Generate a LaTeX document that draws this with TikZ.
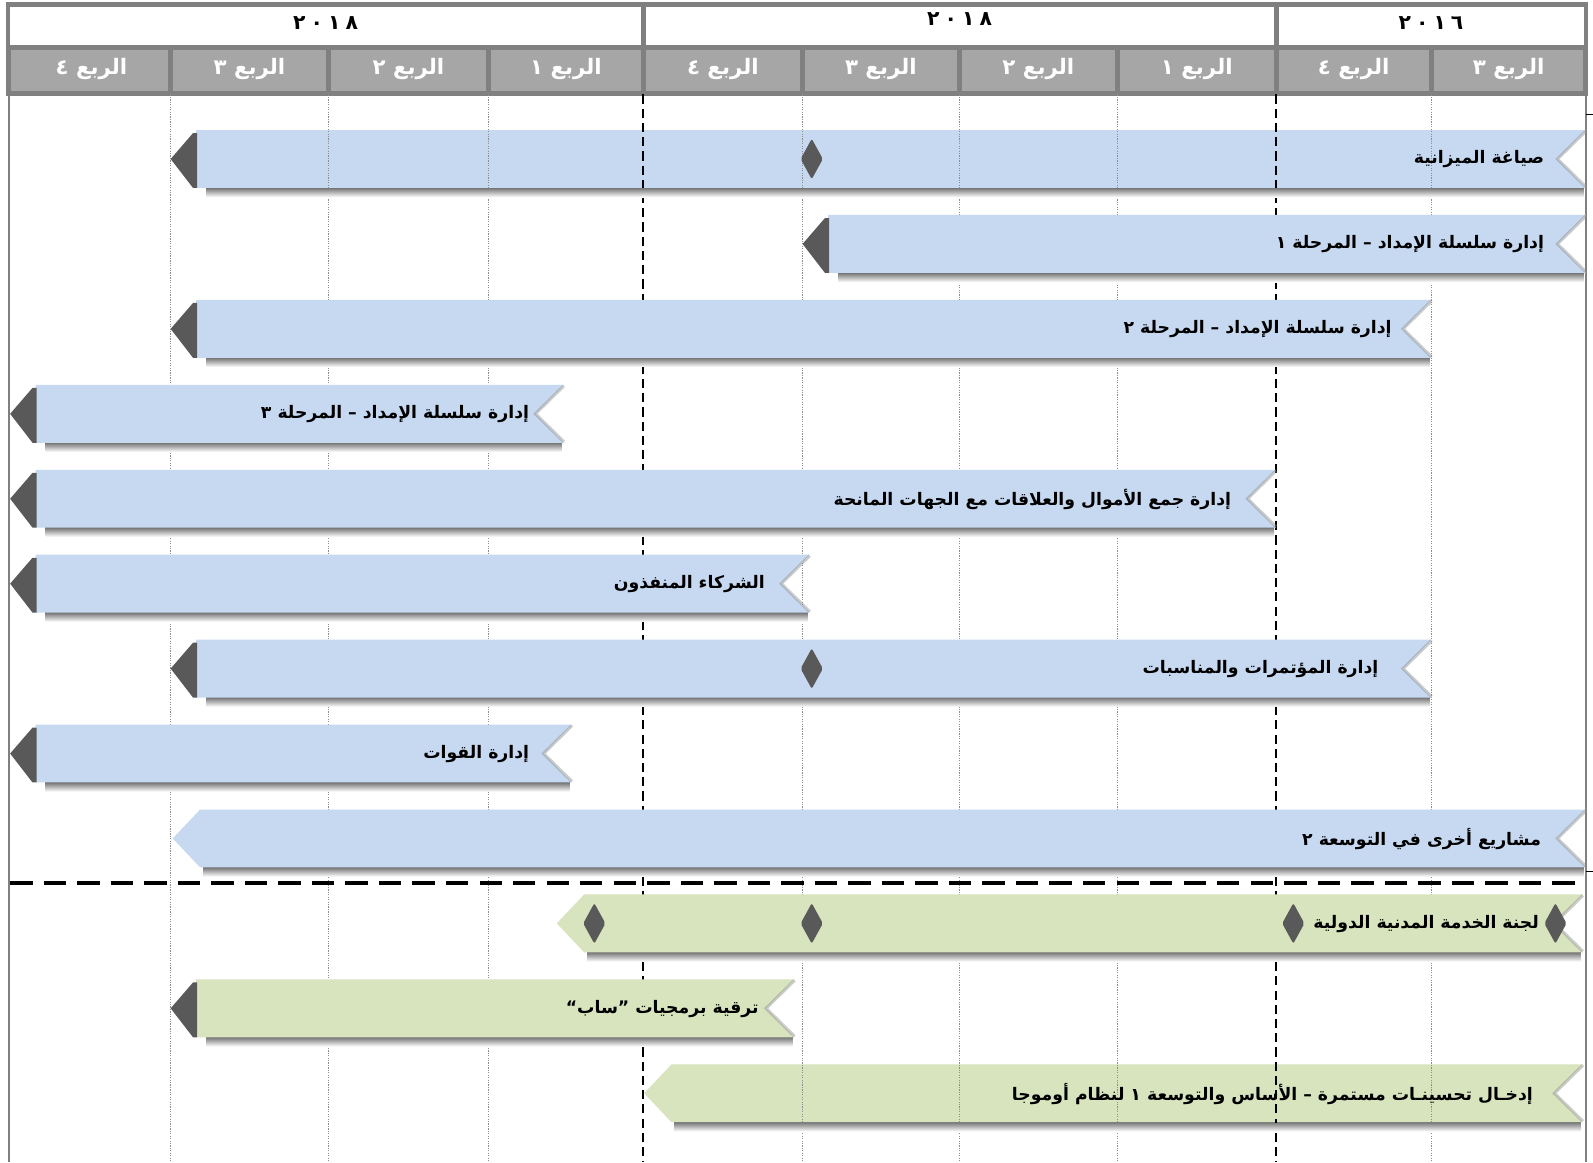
\documentclass[tikz,border=0pt]{standalone}
\usepackage{fontspec}
\usetikzlibrary{shapes.geometric}
\newfontfamily\arabicfont[Script=Arabic]{DejaVu Sans}
\TeXXeTstate=1
\definecolor{barblue}{HTML}{C6D9F1}
\definecolor{bargreen}{HTML}{D7E4BD}
\definecolor{tipgray}{HTML}{595959}
\definecolor{hdrframe}{HTML}{808080}
\definecolor{hdrcell}{HTML}{A6A6A6}
\newcommand\gshadow[3]{\shade[top color=black!60, bottom color=white] (#2,#1+56) rectangle (#3,#1+66);}
\newcommand\notchline[2]{\draw[black!45, line width=3pt, opacity=.45] (#2,#1+1) -- (#2-28,#1+28.5) -- (#2,#1+56);}
% ytop, tip x, right x, colour
\newcommand\tipbar[4]{%
  \gshadow{#1}{#2+35}{#3-2}
  \fill[#4] (#2+25,#1) -- (#3,#1) -- (#3-28,#1+28.5) -- (#3,#1+57) -- (#2+25,#1+57) -- cycle;
  \notchline{#1}{#3}
  \fill[tipgray] (#2,#1+28.5) -- (#2+22,#1+3) -- (#2+26,#1+3) -- (#2+26,#1+57) -- (#2+22,#1+57) -- cycle;
}
\newcommand\pointbar[4]{%
  \gshadow{#1}{#2+30}{#3-2}
  \fill[#4] (#2,#1+28.5) -- (#2+27,#1) -- (#3,#1) -- (#3-28,#1+28.5) -- (#3,#1+57) -- (#2+27,#1+57) -- cycle;
  \notchline{#1}{#3}
}
\newcommand\gridlines{%
  \foreach \gx in {168,323,481,790,944,1100,1409} \draw[dotgrid] (\gx,93) -- (\gx,1144);
  \foreach \gx in {633,1256} \draw[dashgrid] (\gx,93) -- (\gx,1144);
}
\begin{document}
\begin{tikzpicture}[x=1pt,y=-1pt,
  lbl/.style={font=\arabicfont\bfseries\fontsize{17}{20}\selectfont, text=black, inner sep=0pt, anchor=east},
  qlbl/.style={font=\arabicfont\bfseries\fontsize{21}{24}\selectfont, text=white, inner sep=0pt},
  ylbl/.style={font=\arabicfont\bfseries\fontsize{20}{22}\selectfont, text=black, inner sep=0pt},
  mstone/.style={diamond, fill=tipgray, minimum width=22pt, minimum height=40pt, inner sep=0pt, rounded corners=2pt},
  dotgrid/.style={draw=black!45, line width=0.8pt, dash pattern=on 1.2pt off 1.2pt},
  dashgrid/.style={draw=black, line width=2pt, dash pattern=on 9pt off 5pt},
  edge/.style={draw=hdrframe, line width=2pt},
]
\useasboundingbox (0,0) rectangle (1568,1144);
\fill[white] (0,0) rectangle (1568,1144);
% ---------- header ----------
\fill[hdrframe] (6,2) rectangle (1563,94);
\fill[white] (10,7) rectangle (631,44);
\fill[white] (636,7) rectangle (1254,44);
\fill[white] (1259,7) rectangle (1559,44);
\foreach \a/\b in {8/168,168/323,323/481,481/633,633/790,790/944,944/1100,1100/1256,1256/1409,1409/1561}
  \fill[hdrcell] (\a+2.5,49) rectangle (\b-2.5,90);
\node[ylbl] (y1) at (320.5,23) {٢\hspace{5pt}٠\hspace{5pt}١\hspace{5pt}٨};
\node[ylbl] (y2) at (944.5,19) {٢\hspace{5pt}٠\hspace{5pt}١\hspace{5pt}٨};
\node[ylbl] (y3) at (1408.5,23) {٢\hspace{5pt}٠\hspace{5pt}١\hspace{5pt}٦};
\node[qlbl] (q1) at (90,68) {\beginR الربع ٤\endR};
\node[qlbl] (q2) at (245.5,68) {\beginR الربع ٣\endR};
\node[qlbl] (q3) at (402,68) {\beginR الربع ٢\endR};
\node[qlbl] (q4) at (557,68) {\beginR الربع ١\endR};
\node[qlbl] (q5) at (711.5,68) {\beginR الربع ٤\endR};
\node[qlbl] (q6) at (867,68) {\beginR الربع ٣\endR};
\node[qlbl] (q7) at (1022,68) {\beginR الربع ٢\endR};
\node[qlbl] (q8) at (1178,68) {\beginR الربع ١\endR};
\node[qlbl] (q9) at (1332.5,68) {\beginR الربع ٤\endR};
\node[qlbl] (q10) at (1485,68) {\beginR الربع ٣\endR};
% ---------- grid under bars ----------
\gridlines
\draw[edge] (9,93) -- (9,1144);
\draw[hdrframe, line width=1.5pt] (1561,93) -- (1561,1144);
\draw[black, line width=1pt] (1561,113) -- (1568,113);
\draw[black, line width=1pt] (1561,858) -- (1568,858);
% ---------- bars ----------
\tipbar{128}{168}{1561}{barblue}
\tipbar{211.6}{790}{1561}{barblue}
\tipbar{295.2}{168}{1409}{barblue}
\tipbar{378.8}{10}{555}{barblue}
\tipbar{462.4}{10}{1256}{barblue}
\tipbar{546}{10}{797}{barblue}
\tipbar{629.6}{168}{1409}{barblue}
\tipbar{713.2}{10}{563}{barblue}
\pointbar{796.8}{170}{1561}{barblue}
\pointbar{880.4}{548}{1558}{bargreen}
\tipbar{964}{168}{782}{bargreen}
\pointbar{1047.6}{634}{1558}{bargreen}
% grid over first and last bars
\begin{scope}
  \clip (190,128) rectangle (1561,185);
  \gridlines
\end{scope}
\begin{scope}
  \clip (634,1047.6) rectangle (1558,1104.6);
  \gridlines
\end{scope}
% ---------- separator ----------
\draw[black, line width=4pt, dash pattern=on 22pt off 11pt] (10,869) -- (1561,869);
% ---------- milestones ----------
\node[mstone] (m1) at (799,156.5) {};
\node[mstone] (m7) at (799,658.1) {};
\node[mstone] (m10a) at (585,908.9) {};
\node[mstone] (m10b) at (799,908.9) {};
\node[mstone] (m10c) at (1273,908.9) {};
\node[mstone] (m10d) at (1531,908.9) {};
% ---------- labels ----------
\node[lbl] (l1) at (1520,157) {\beginR صياغة الميزانية\endR};
\node[lbl] (l2) at (1520,240.6) {\beginR إدارة سلسلة الإمداد – المرحلة ١\endR};
\node[lbl] (l3) at (1370,324.2) {\beginR إدارة سلسلة الإمداد – المرحلة ٢\endR};
\node[lbl] (l4) at (521,407.8) {\beginR إدارة سلسلة الإمداد – المرحلة ٣\endR};
\node[lbl] (l5) at (1212,491.4) {\beginR إدارة جمع الأموال والعلاقات مع الجهات المانحة\endR};
\node[lbl] (l6) at (753,575) {\beginR الشركاء المنفذون\endR};
\node[lbl] (l7) at (1357,658.6) {\beginR إدارة المؤتمرات والمناسبات\endR};
\node[lbl] (l8) at (521,742.2) {\beginR إدارة القوات\endR};
\node[lbl] (l9) at (1517,825.8) {\beginR مشاريع أخرى في التوسعة ٢\endR};
\node[lbl] (l10) at (1515,909.4) {\beginR لجنة الخدمة المدنية الدولية\endR};
\node[lbl] (l11) at (747,993) {\beginR ترقية برمجيات ”ساب“\endR};
\node[lbl] (l12) at (1509,1076.6) {\beginR إدخـال تحسينـات مستمرة – الأساس والتوسعة ١ لنظام أوموجا\endR};
\end{tikzpicture}
\end{document}
